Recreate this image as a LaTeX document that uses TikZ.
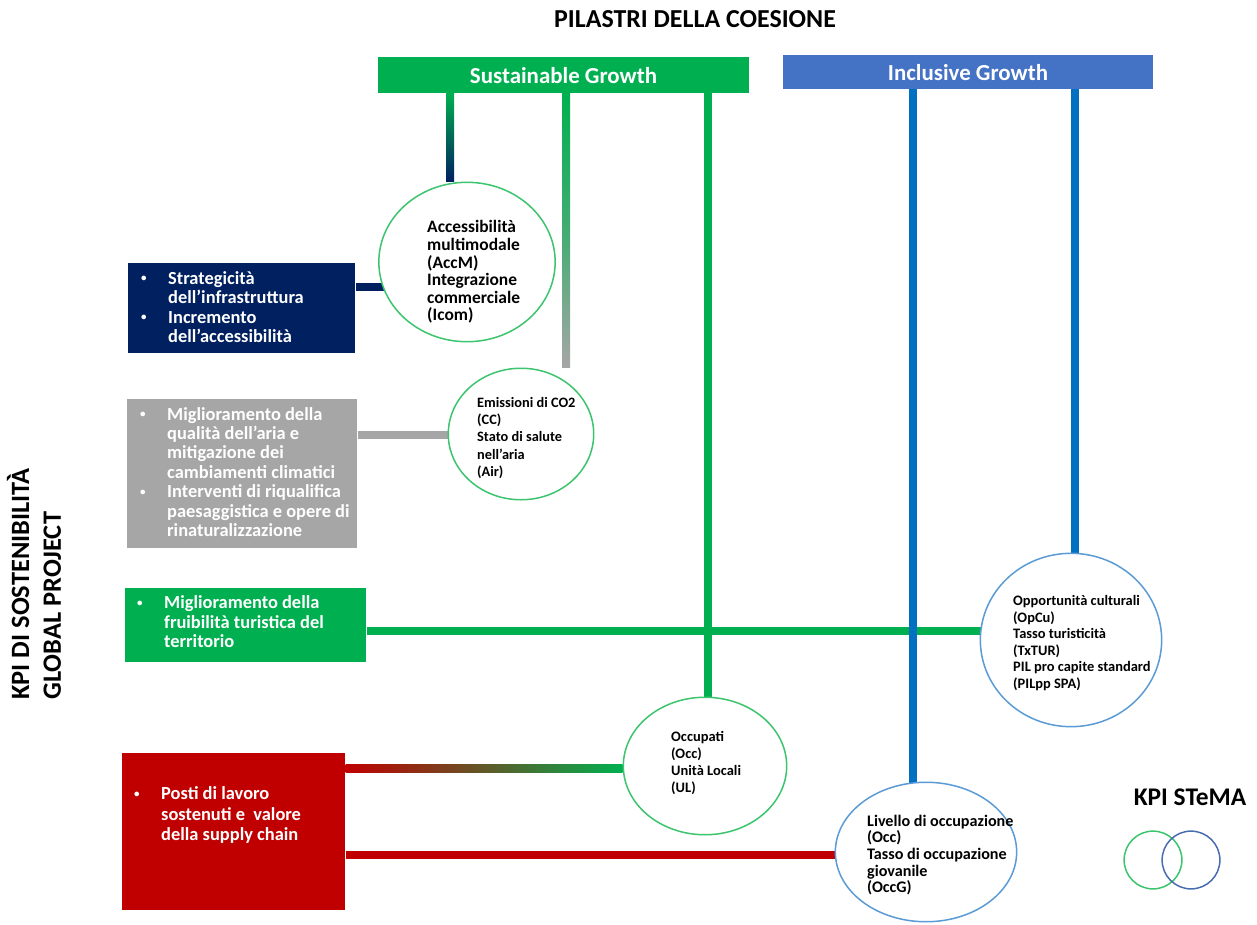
\documentclass[tikz,border=0pt]{standalone}
\usepackage{fontspec}
\setmainfont{Carlito}
\usetikzlibrary{shapes.geometric,backgrounds}
\definecolor{sgreen}{HTML}{00B050}
\definecolor{igblue}{HTML}{4472C4}
\definecolor{lblue}{HTML}{0070C0}
\definecolor{navyb}{HTML}{002060}
\definecolor{grayb}{HTML}{A6A6A6}
\definecolor{redb}{HTML}{C00000}
\definecolor{cgreen}{HTML}{3CC46E}
\definecolor{cblue}{HTML}{5B9BD5}
\definecolor{vblue}{HTML}{4A6DB0}
\newcommand\mybul{\makebox[27bp][l]{\raisebox{2.5bp}{\fontsize{11}{11}\selectfont\textbullet}}}
\newcommand\myind{\hspace*{27bp}}
\begin{document}
\begin{tikzpicture}[x=1bp,y=-1bp,
  hdr/.style={rectangle, inner sep=0, text=white, anchor=north west, font=\bfseries\fontsize{23}{28}\selectfont},
  boxr/.style={rectangle, inner sep=0, anchor=north west},
  btxt/.style={inner sep=0, anchor=west, align=left, text=white, font=\bfseries\fontsize{18.5}{19.5}\selectfont},
  ctxt/.style={inner sep=0, anchor=west, align=left, text=black},
  kpig/.style={ellipse, draw=cgreen, line width=1.5bp, fill=white, inner sep=0},
  kpib/.style={ellipse, draw=cblue, line width=1.5bp, fill=white, inner sep=0},
  gline/.style={draw=sgreen, line width=8bp},
  bline/.style={draw=lblue, line width=8bp},
  big/.style={font=\bfseries\fontsize{26}{30}\selectfont, inner sep=0}
]
\useasboundingbox (0,0) rectangle (1257,925);

% titles
\node[big] (title) at (695,19) {PILASTRI DELLA COESIONE};
\node[big, rotate=90, align=left, font=\bfseries\fontsize{26.5}{32}\selectfont] (side) at (34,584) {KPI DI SOSTENIBILITÀ\\GLOBAL PROJECT};
\node[big, font=\bfseries\fontsize{25.5}{30}\selectfont] (stema) at (1190,797) {KPI STeMA};

% header boxes
\node[hdr, fill=sgreen, minimum width=372, minimum height=36] (sg) at (378,57) {Sustainable Growth};
\node[hdr, fill=igblue, minimum width=371, minimum height=34] (ig) at (783,55) {Inclusive Growth};

% left boxes
\node[boxr, fill=navyb, minimum width=228, minimum height=90] (navy) at (128,263) {};
\node[btxt] (navyt) at (141,307) {\mybul Strategicità\\\myind dell’infrastruttura\\\mybul Incremento\\\myind dell’accessibilità};
\node[boxr, fill=grayb, minimum width=231, minimum height=149] (gray) at (127,399) {};
\node[btxt] (grayt) at (140,472) {\mybul Miglioramento della\\\myind qualità dell’aria e\\\myind mitigazione dei\\\myind cambiamenti climatici\\\mybul Interventi di riqualifica\\\myind paesaggistica e opere di\\\myind rinaturalizzazione};
\node[boxr, fill=sgreen, minimum width=242, minimum height=74] (gbox) at (125,588) {};
\node[btxt] (gboxt) at (137,622) {\mybul Miglioramento della\\\myind fruibilità turistica del\\\myind territorio};
\node[boxr, fill=redb, minimum width=224, minimum height=157] (red) at (122,753) {};
\node[btxt, font=\bfseries\fontsize{18.5}{20.5}\selectfont] (redt) at (134,815) {\mybul Posti di lavoro\\\myind sostenuti e\ \ valore\\\myind della supply chain};

% KPI circles
\node[kpig, minimum width=177, minimum height=160] (acc) at (467,262) {};
\node[ctxt, font=\bfseries\fontsize{17.5}{17.6}\selectfont] (acct) at (427,272) {Accessibilità\\multimodale\\(AccM)\\Integrazione\\commerciale\\(Icom)};
\node[kpig, minimum width=146, minimum height=132] (co2) at (521,434) {};
\node[ctxt, font=\bfseries\fontsize{14.4}{17.5}\selectfont] (co2t) at (477,438) {Emissioni di CO2\\(CC)\\Stato di salute\\nell’aria\\(Air)};
\node[kpib, minimum width=182, minimum height=174] (opcu) at (1071,640) {};
\node[ctxt, font=\bfseries\fontsize{14.5}{16.6}\selectfont] (opcut) at (1013,643) {Opportunità culturali\\(OpCu)\\Tasso turisticità\\(TxTUR)\\PIL pro capite standard\\(PILpp SPA)};
\node[kpig, minimum width=164, minimum height=138] (occ) at (705,766) {};
\node[ctxt, font=\bfseries\fontsize{14.5}{17.3}\selectfont] (occt) at (671,763) {Occupati\\(Occ)\\Unità Locali\\(UL)};
\node[kpib, minimum width=182, minimum height=140] (liv) at (926,852) {};
\node[ctxt, font=\bfseries\fontsize{16.2}{16.7}\selectfont] (livt) at (867,855) {Livello di occupazione\\(Occ)\\Tasso di occupazione\\giovanile\\(OccG)};

% legend
\node[circle, draw=cgreen, line width=1.5bp, minimum size=58, inner sep=0] (vg) at (1153,860) {};
\node[circle, draw=vblue, line width=1.5bp, minimum size=58, inner sep=0] (vb) at (1191,860) {};

% connector guide coordinates
\coordinate (xa) at (450,0);
\coordinate (xb) at (566,0);
\coordinate (xc) at (708,0);
\coordinate (xd) at (913,0);
\coordinate (xe) at (1075,0);
\coordinate (ya) at (0,287);
\coordinate (yb) at (0,435);
\coordinate (yc) at (0,631);
\coordinate (yd) at (0,768);
\coordinate (ye) at (0,855);

\begin{scope}[on background layer]
\draw[gline] (gbox.east |- yc) -- (opcu.center |- yc);
\shade[top color=sgreen, bottom color=navyb] ([xshift=-4bp]xa |- sg.south) rectangle ([xshift=4bp]xa |- acc.north);
\shade[top color=sgreen, bottom color=grayb, middle color=sgreen!60!grayb] ([xshift=-4bp]xb |- sg.south) rectangle ([xshift=4bp]xb |- co2.north);
\draw[gline] (sg.south -| xc) -- (xc |- occ.center);
\draw[bline] (ig.south -| xd) -- (xd |- liv.center);
\draw[bline] (ig.south -| xe) -- (xe |- opcu.center);
\draw[draw=navyb, line width=8bp] (navy.east |- ya) -- (acc.center |- ya);
\draw[draw=grayb, line width=8bp] (gray.east |- yb) -- (co2.center |- yb);
\shade[left color=redb, right color=sgreen] ([yshift=4bp]red.east |- yd) rectangle ([yshift=-4bp]occ.west |- yd);
\draw[draw=redb, line width=8bp] (red.east |- ye) -- (liv.center |- ye);
\end{scope}
\end{tikzpicture}
\end{document}
